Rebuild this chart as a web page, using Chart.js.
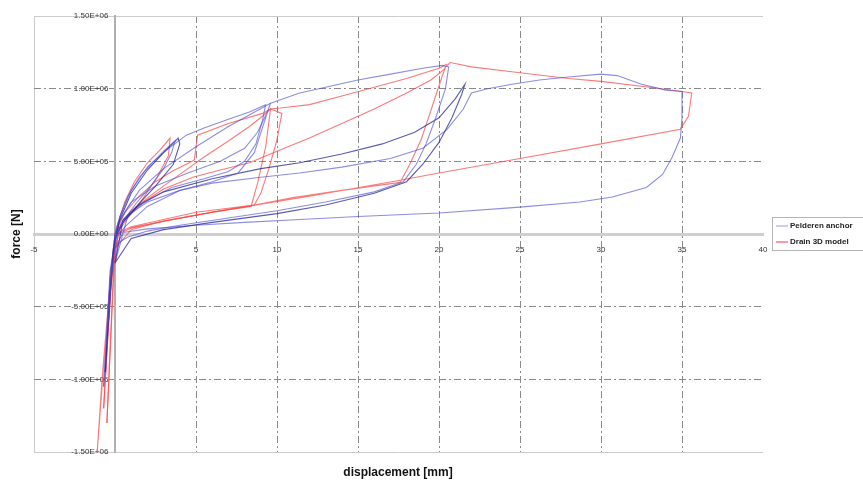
<!DOCTYPE html>
<html>
<head>
<meta charset="utf-8">
<script src="https://cdn.jsdelivr.net/npm/chart.js@4.4.0/dist/chart.umd.min.js"></script>
<style>
html, body { margin: 0; padding: 0; background: #fff; }
#wrap { width: 863px; height: 488px; }
</style>
</head>
<body>
<div id="wrap"><canvas id="grafico" width="863" height="488"></canvas></div>
<script>
// textos
const xTitle = "displacement [mm]";
const yTitle = "force [N]";
const testName = "Pelderen anchor";
const modelName = "Drain 3D model";

// ejes
const xMin = -5, xMax = 40, xStep = 5;
const yMin = -1.5e6, yMax = 1.5e6, yStep = 5e5;

// ensayo (azul): desplazamiento [mm] y fuerza [N]
const test1Disp  = [0, 0.3, 0.8, 1.5, 2.3, 3.0, 3.7, 3.5, 3.0, 2.2, 1.3, 0.5, 0.1, -0.2, -0.4];
const test1Force = [0, 1.2e5, 2.6e5, 3.9e5, 4.9e5, 5.7e5, 6.4e5, 5.6e5, 4.5e5, 3.3e5, 2.1e5, 0.9e5, 0, -2.5e5, -6.0e5];

const test2Disp  = [-0.4, -0.1, 0.3, 1.0, 2.0, 3.0, 3.9, 4.0, 3.6, 2.5, 1.5, 0.5, 0, -0.3, -0.6];
const test2Force = [-6.0e5, -1.0e5, 1.0e5, 2.8e5, 4.4e5, 5.6e5, 6.6e5, 6.2e5, 4.8e5, 3.3e5, 2.1e5, 0.8e5, -0.3e5, -4.0e5, -9.5e5];

const test3Disp  = [-0.6, -0.2, 0.3, 1.0, 2.0, 3.2, 4.4, 5.5, 7.0, 8.3, 9.3, 9.1, 8.7, 8.0, 7.0, 5.5, 3.5, 1.8, 0.6, 0, -0.3, -0.7];
const test3Force = [-9.5e5, -2e5, 1.2e5, 3.0e5, 4.6e5, 5.8e5, 6.8e5, 7.3e5, 7.9e5, 8.4e5, 8.9e5, 7.8e5, 6.2e5, 5.0e5, 4.3e5, 3.8e5, 3.2e5, 2.2e5, 1.0e5, 0, -3e5, -1.05e6];

const test4Disp  = [-0.7, -0.3, 0.2, 1.0, 2.5, 4.5, 6.5, 8.0, 8.8, 9.4, 9.6, 9.3, 8.6, 7.6, 6.0, 4.0, 2.0, 0.7, 0, -0.4];
const test4Force = [-1.05e6, -2.5e5, 0.8e5, 2.2e5, 3.3e5, 4.2e5, 5.0e5, 5.9e5, 7.0e5, 8.4e5, 9.0e5, 8.0e5, 5.6e5, 4.2e5, 3.6e5, 3.0e5, 1.9e5, 0.6e5, -0.3e5, -5e5];

const test5Disp  = [-0.4, 0, 0.6, 1.5, 3, 5, 7, 9.6, 11.4, 13, 15, 17, 19, 20.2, 20.6, 20.4, 19.8, 19.2, 18.6, 17.8, 16, 13, 10, 7, 4, 2, 0.8, 0.2, 0];
const test5Force = [-5e5, 0, 1.5e5, 3.0e5, 4.5e5, 6.0e5, 7.4e5, 9.0e5, 9.7e5, 1.01e6, 1.06e6, 1.10e6, 1.14e6, 1.16e6, 1.15e6, 1.0e6, 8.0e5, 6.2e5, 4.8e5, 3.6e5, 2.9e5, 2.2e5, 1.6e5, 1.1e5, 0.6e5, 0.2e5, -0.2e5, -0.6e5, -2e5];

const test6Disp  = [0, 0.5, 1.5, 3, 6, 9, 11.4, 14, 16.5, 18.5, 20, 21, 21.6, 21.4, 20.8, 20, 19, 18, 16, 13, 10, 6, 3, 1, 0];
const test6Force = [-2e5, 1.0e5, 2.0e5, 2.9e5, 3.8e5, 4.5e5, 4.9e5, 5.5e5, 6.2e5, 7.0e5, 8.0e5, 9.3e5, 1.03e6, 9.6e5, 8.0e5, 6.3e5, 4.8e5, 3.6e5, 2.8e5, 2.0e5, 1.4e5, 0.8e5, 0.3e5, -0.3e5, -2e5];

const test7Disp  = [0, 0.8, 2, 4, 6, 9, 11.4, 14, 17, 19, 20.5, 21.5, 22.0, 23.0, 24.5, 26.2, 28, 30, 31, 32.5, 34, 35, 35.0, 34.9, 34.4, 33.8, 32.8, 30.7, 28.7, 25, 20, 15, 11.4, 8, 5, 2, 0.5, 0];
const test7Force = [-2e5, 1.3e5, 2.2e5, 3.0e5, 3.5e5, 3.9e5, 4.2e5, 4.6e5, 5.2e5, 5.9e5, 7.2e5, 8.6e5, 9.7e5, 1.0e6, 1.03e6, 1.06e6, 1.08e6, 1.10e6, 1.09e6, 1.03e6, 9.9e5, 9.8e5, 8.0e5, 6.6e5, 5.3e5, 4.1e5, 3.2e5, 2.55e5, 2.2e5, 1.85e5, 1.45e5, 1.2e5, 1.0e5, 0.8e5, 0.6e5, 0.35e5, 0.1e5, -1e5];

// modelo (rojo)
const model1Disp  = [0, -0.2, -0.5, -0.8, -1.1, -0.9, -0.5, -0.1, 0.2, 0.6, 1.2, 2.0, 2.8, 3.4, 3.3, 2.6, 1.7, 0.8, 0.2, -0.2, -0.6];
const model1Force = [0, -2e5, -6e5, -1.0e6, -1.5e6, -1.2e6, -6e5, -1e5, 0.8e5, 2.2e5, 3.6e5, 4.9e5, 5.8e5, 6.6e5, 5.4e5, 3.9e5, 2.4e5, 1.1e5, 0.2e5, -3e5, -1.0e6];

const model2Disp  = [-0.6, -0.3, 0.1, 0.7, 1.5, 2.5, 3.5, 4.4, 4.9, 5.0, 5.1, 7.0, 9.1, 9.6, 10.3, 10.0, 9.5, 9.0, 8.6, 7.0, 5.0, 3.0, 1.0, 0.2, -0.3, -0.7];
const model2Force = [-1.0e6, -3e5, 0.5e5, 1.6e5, 2.6e5, 3.6e5, 4.3e5, 4.8e5, 5.1e5, 6.0e5, 6.8e5, 7.6e5, 8.3e5, 8.6e5, 8.3e5, 6.5e5, 4.5e5, 2.8e5, 2.0e5, 1.7e5, 1.3e5, 0.9e5, 0.4e5, 0, -4e5, -1.2e6];

const model3Disp  = [-0.7, -0.2, 0.4, 1.0, 2.5, 4.0, 5.5, 7.0, 8.3, 9.1, 9.6, 9.3, 8.8, 8.4, 6, 3, 1, 0, -0.5];
const model3Force = [-1.2e6, -2e5, 0.8e5, 1.6e5, 2.9e5, 4.1e5, 5.3e5, 6.4e5, 7.4e5, 8.1e5, 8.6e5, 6.0e5, 3.5e5, 1.9e5, 1.5e5, 0.9e5, 0.3e5, -1e5, -1.3e6];

const model4Disp  = [-0.5, 0, 1, 3, 5, 8.6, 11, 14, 17.6, 18.2, 18.9, 19.5, 20.0, 20.4, 20.7, 22, 25, 28, 30, 33, 35, 35.6, 35.4, 34.9, 30, 25, 20, 17.6, 12, 6, 0.8, 0];
const model4Force = [-1.3e6, 0, 0.5e5, 1.0e5, 1.5e5, 2.0e5, 2.5e5, 3.0e5, 3.55e5, 4.8e5, 6.5e5, 8.5e5, 1.02e6, 1.15e6, 1.18e6, 1.15e6, 1.11e6, 1.07e6, 1.05e6, 1.01e6, 9.8e5, 9.7e5, 8.1e5, 7.2e5, 6.2e5, 5.2e5, 4.2e5, 3.7e5, 2.6e5, 1.5e5, 0.4e5, 0];

const model5Disp  = [0, 0.6, 1.5, 3, 4.8, 6.5, 8.3, 10, 12, 14, 16, 18, 19.5, 20.4];
const model5Force = [0, 1.0e5, 2.0e5, 3.1e5, 3.9e5, 4.4e5, 4.9e5, 5.7e5, 6.6e5, 7.6e5, 8.6e5, 9.7e5, 1.06e6, 1.14e6];

const model6Disp  = [9.6, 10.5, 12, 14, 16, 18, 20, 20.5];
const model6Force = [8.6e5, 8.7e5, 8.9e5, 9.5e5, 1.01e6, 1.07e6, 1.14e6, 1.17e6];

// juntar x con y
function pares(xs, ys) {
    return xs.map((x, i) => ({ x: x, y: ys[i] }));
}

function serie(xs, ys, color) {
    return {
        data: pares(xs, ys),
        showLine: true,
        borderColor: color,
        borderWidth: 1.1,
        pointRadius: 0,
        tension: 0,
        fill: false
    };
}

const azul = "rgba(80, 80, 210, 0.65)";
const azulOsc = "rgba(35, 35, 150, 0.75)";
const rojo = "rgba(250, 70, 70, 0.72)";

const datasets = [
    serie(test1Disp, test1Force, azul),
    serie(test2Disp, test2Force, azulOsc),
    serie(test3Disp, test3Force, azul),
    serie(test4Disp, test4Force, azul),
    serie(test5Disp, test5Force, azul),
    serie(test6Disp, test6Force, azulOsc),
    serie(test7Disp, test7Force, azul),
    serie(model1Disp, model1Force, rojo),
    serie(model2Disp, model2Force, rojo),
    serie(model3Disp, model3Force, rojo),
    serie(model4Disp, model4Force, rojo),
    serie(model5Disp, model5Force, rojo),
    serie(model6Disp, model6Force, rojo)
];

// formato tipo excel 1.00E+06
function cientifico(v) {
    if (v === 0) return "0.00E+00";
    const e = Math.floor(Math.log10(Math.abs(v)) + 1e-9);
    const m = v / Math.pow(10, e);
    return m.toFixed(2) + "E" + (e < 0 ? "-" : "+") + String(Math.abs(e)).padStart(2, "0");
}

const fuente = '"Liberation Sans", Arial, sans-serif';

// lineas de la rejilla: borde gris claro, cero lo pinta el eje, resto raya-punto
function colorRejilla(ctx, bordes, ocultar) {
    const v = ctx.tick ? ctx.tick.value : null;
    if (v === 0 || v === ocultar) return "rgba(0,0,0,0)";
    if (bordes.includes(v)) return "#cccccc";
    return "#8a8a8a";
}

function rayaRejilla(ctx, bordes) {
    const v = ctx.tick ? ctx.tick.value : null;
    if (bordes.includes(v)) return [];
    return [7, 3, 2, 3];
}

// titulos y leyenda
const rotulos = {
    id: "rotulos",
    afterDraw(chart) {
        const ctx = chart.ctx;
        ctx.save();
        ctx.fillStyle = "#111";
        ctx.font = "bold 12px " + fuente;
        ctx.textAlign = "center";
        ctx.textBaseline = "middle";
        ctx.fillText(xTitle, 398, 473);
        ctx.translate(17, 234);
        ctx.rotate(-Math.PI / 2);
        ctx.fillText(yTitle, 0, 0);
        ctx.restore();

        // leyenda
        ctx.save();
        ctx.strokeStyle = "#b5b5b5";
        ctx.lineWidth = 1;
        ctx.strokeRect(772.5, 217.5, 100, 33);
        ctx.font = "bold 8px " + fuente;
        ctx.textAlign = "left";
        ctx.textBaseline = "middle";
        ctx.lineWidth = 1.5;
        ctx.strokeStyle = "rgba(120,120,220,0.5)";
        ctx.beginPath(); ctx.moveTo(776, 226); ctx.lineTo(788, 226); ctx.stroke();
        ctx.strokeStyle = "rgba(250,80,110,0.8)";
        ctx.beginPath(); ctx.moveTo(776, 242); ctx.lineTo(788, 242); ctx.stroke();
        ctx.fillStyle = "#222";
        ctx.fillText(testName, 790, 226);
        ctx.fillText(modelName, 790, 242);
        ctx.restore();
    }
};

new Chart(document.getElementById("grafico"), {
    type: "scatter",
    data: { datasets: datasets },
    plugins: [rotulos],
    options: {
        responsive: false,
        animation: false,
        devicePixelRatio: 1,
        layout: { padding: { left: 34, right: 100, top: 16, bottom: 36 } },
        plugins: { legend: { display: false }, tooltip: { enabled: false } },
        scales: {
            x: {
                type: "linear",
                min: xMin, max: xMax,
                position: { y: 0 },
                afterFit: s => { s.height = 0; },
                ticks: {
                    stepSize: xStep,
                    padding: 11,
                    maxRotation: 0,
                    color: "#333",
                    font: { size: 8, family: fuente },
                    callback: v => (v === 0 ? "" : String(v))
                },
                grid: {
                    drawTicks: false,
                    color: c => colorRejilla(c, [xMin], xMax),
                    lineWidth: 1
                },
                border: { display: true, color: "#cfcfcf", width: 3, dash: c => rayaRejilla(c, [xMin]) }
            },
            y: {
                type: "linear",
                min: yMin, max: yMax,
                position: { x: 0 },
                afterFit: s => { s.width = 0; },
                ticks: {
                    stepSize: yStep,
                    color: "#333",
                    font: { size: 8, family: fuente },
                    // el eje va en x=0, las etiquetas quedan a su izquierda
                    callback: v => cientifico(v) + "   "
                },
                grid: {
                    drawTicks: false,
                    color: c => colorRejilla(c, [yMin, yMax], null),
                    lineWidth: 1
                },
                border: { display: true, color: "#b0b0b0", width: 2, dash: c => rayaRejilla(c, [yMin, yMax]) }
            }
        }
    }
});
</script>
</body>
</html>
